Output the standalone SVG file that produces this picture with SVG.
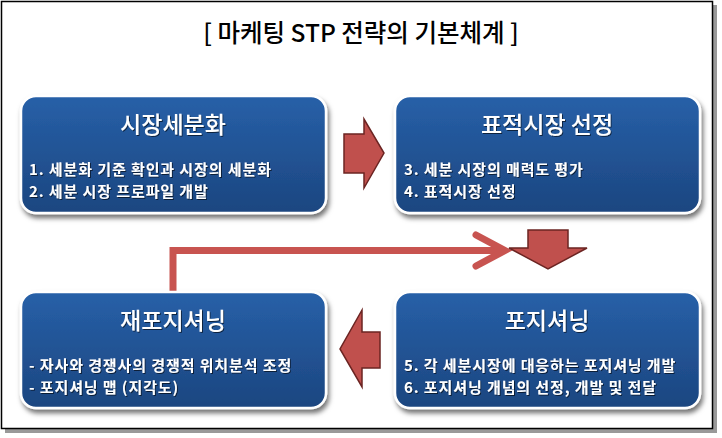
<svg xmlns="http://www.w3.org/2000/svg" width="722" height="438" viewBox="0 0 722 438">
<defs>
<linearGradient id="boxg" x1="0" y1="0" x2="0" y2="1">
<stop offset="0" stop-color="#2760a8"/>
<stop offset="1" stop-color="#1c4680"/>
</linearGradient>
<filter id="sh" x="-10%" y="-10%" width="125%" height="130%">
<feDropShadow dx="2" dy="4" stdDeviation="2.5" flood-color="#000" flood-opacity="0.55"/>
</filter>
<filter id="tsh" x="-5%" y="-20%" width="110%" height="150%">
<feDropShadow dx="1" dy="1" stdDeviation="0.6" flood-color="#000" flood-opacity="0.6"/>
</filter>
</defs>
<style>
.box{fill:url(#boxg);stroke:#ffffff;stroke-width:2.5;filter:url(#sh)}
.ttl{font-family:"Noto Sans CJK KR","Noto Sans",sans-serif;font-size:23px;font-weight:500;fill:#ffffff;text-anchor:middle;filter:url(#tsh)}
.txt{font-family:"Noto Sans CJK KR","Noto Sans",sans-serif;font-size:15px;letter-spacing:0.9px;font-weight:bold;fill:#ffffff;filter:url(#tsh)}
.arr{fill:#c0504d;stroke:#6b2422;stroke-width:1.5;stroke-linejoin:miter}
.conn{fill:none;stroke:#c85450;stroke-width:7}
</style>
<rect x="5" y="5" width="712" height="428" fill="#555" opacity="0.6"/>
<rect x="1.5" y="1.5" width="711" height="427" fill="#ffffff" stroke="#000" stroke-width="1.5"/>
<text x="361" y="42" font-family="'Noto Sans CJK KR','Noto Sans',sans-serif" font-size="24.5" font-weight="500" text-anchor="middle" fill="#000">[ 마케팅 STP 전략의 기본체계 ]</text>

<g id="connectors">
<path class="conn" d="M173 292 V250.5 H505" stroke-linejoin="miter"/>
<path class="conn" d="M476 235 L505 250.5 L476 266" stroke-linecap="round" stroke-linejoin="miter"/>
<polygon class="arr" points="344,134 364,134 364,119 384,153 364,188 364,173 344,173"/>
<polygon class="arr" points="528,230 568,230 568,248 587,248 548,269 509,248 528,248"/>
<polygon class="arr" points="380,332 362,332 362,310 340,349 362,387 362,368 380,368"/>
</g>

<g id="node-segmentation">
<rect class="box" x="21" y="96" width="305" height="117" rx="15"/>
<text class="ttl" x="173" y="133">시장세분화</text>
<text class="txt" x="29" y="175">1. 세분화 기준 확인과 시장의 세분화</text>
<text class="txt" x="29" y="197">2. 세분 시장 프로파일 개발</text>
</g>

<g id="node-targeting">
<rect class="box" x="395" y="96" width="305" height="117" rx="15"/>
<text class="ttl" x="547" y="133">표적시장 선정</text>
<text class="txt" x="404" y="175">3. 세분 시장의 매력도 평가</text>
<text class="txt" x="404" y="197">4. 표적시장 선정</text>
</g>

<g id="node-repositioning">
<rect class="box" x="21" y="292" width="305" height="116" rx="15"/>
<text class="ttl" x="173" y="329">재포지셔닝</text>
<text class="txt" x="29" y="371">- 자사와 경쟁사의 경쟁적 위치분석 조정</text>
<text class="txt" x="29" y="393">- 포지셔닝 맵 (지각도)</text>
</g>

<g id="node-positioning">
<rect class="box" x="395" y="292" width="305" height="116" rx="15"/>
<text class="ttl" x="547" y="329">포지셔닝</text>
<text class="txt" x="404" y="371">5. 각 세분시장에 대응하는 포지셔닝 개발</text>
<text class="txt" x="404" y="393">6. 포지셔닝 개념의 선정, 개발 및 전달</text>
</g>
</svg>
